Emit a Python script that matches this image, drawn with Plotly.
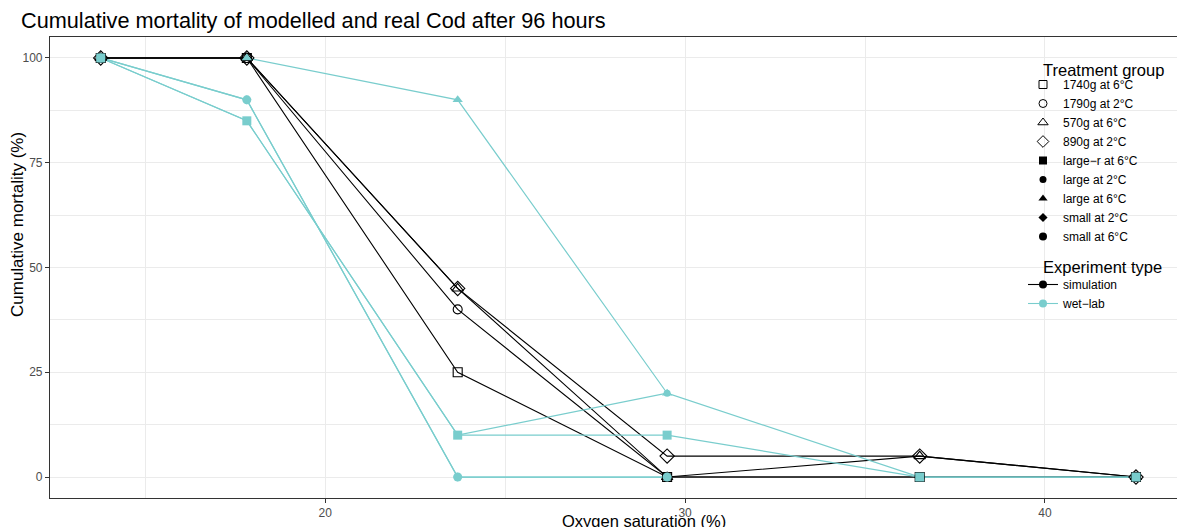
import plotly.graph_objects as go

# ---- data ----
oxygen = [13.76, 17.82, 23.68, 29.5, 36.52, 42.53]

sim_groups = ["1740g at 6°C", "1790g at 2°C", "570g at 6°C", "890g at 2°C"]
sim_1740g_6C = [100, 100, 25, 0, 0, 0]
sim_1790g_2C = [100, 100, 40, 0, 0, 0]
sim_570g_6C = [100, 100, 45, 0, 5, 0]
sim_890g_2C = [100, 100, 45, 5, 5, 0]

wet_groups = ["large−r at 6°C", "large at 2°C", "large at 6°C", "small at 2°C", "small at 6°C"]
wet_larger_6C = [100, 85, 10, 10, 0, 0]
wet_large_2C = [100, 85, 10, 20, 0, 0]
wet_large_6C = [None, 100, 90, 20, None, None]
wet_small_2C = [100, 90, 0, 0, None, None]
wet_small_6C = [100, 90, 0, 0, None, None]

x_ticks = [20, 30, 40]
y_ticks = [0, 25, 50, 75, 100]

# ---- styles ----
BLACK = "#000000"
TEAL = "#79CDCD"
sim_series = [sim_1740g_6C, sim_1790g_2C, sim_570g_6C, sim_890g_2C]
sim_symbols = ["square-open", "circle-open", "triangle-up-open", "diamond-open"]
sim_sizes = [9, 9, 10, 11]
wet_series = [wet_larger_6C, wet_large_2C, wet_large_6C, wet_small_2C, wet_small_6C]
wet_symbols = ["square", "circle", "triangle-up", "diamond", "circle"]
wet_sizes = [9, 7, 9, 7, 9]

fig = go.Figure()

# lines first (lines layer under points layer)
for ys in sim_series:
    fig.add_trace(go.Scatter(x=oxygen, y=ys, mode="lines", line=dict(color=BLACK, width=1.1),
                             showlegend=False, hoverinfo="skip", connectgaps=False))
for ys in wet_series:
    fig.add_trace(go.Scatter(x=oxygen, y=ys, mode="lines", line=dict(color=TEAL, width=1.2),
                             showlegend=False, hoverinfo="skip", connectgaps=False))
# points
for ys, sym, sz in zip(sim_series, sim_symbols, sim_sizes):
    fig.add_trace(go.Scatter(x=oxygen, y=ys, mode="markers",
                             marker=dict(symbol=sym, size=sz, color=BLACK, line=dict(width=1.1, color=BLACK)),
                             showlegend=False))
for ys, sym, sz in zip(wet_series, wet_symbols, wet_sizes):
    fig.add_trace(go.Scatter(x=oxygen, y=ys, mode="markers",
                             marker=dict(symbol=sym, size=sz, color=TEAL, line=dict(width=0)),
                             showlegend=False))

# legend: Treatment group
legend_sizes = [8, 8, 9, 9, 8, 7, 8, 7, 8]
for name, sym, sz in zip(sim_groups, sim_symbols, legend_sizes[:4]):
    fig.add_trace(go.Scatter(x=[None], y=[None], mode="markers", name=name, legend="legend",
                             marker=dict(symbol=sym, size=sz, color=BLACK, line=dict(width=1, color=BLACK))))
for name, sym, sz in zip(wet_groups, wet_symbols, legend_sizes[4:]):
    fig.add_trace(go.Scatter(x=[None], y=[None], mode="markers", name=name, legend="legend",
                             marker=dict(symbol=sym, size=sz, color=BLACK, line=dict(width=0))))
# legend: Experiment type
fig.add_trace(go.Scatter(x=[None], y=[None], mode="lines+markers", name="simulation", legend="legend2",
                         line=dict(color=BLACK, width=1.1), marker=dict(symbol="circle", size=8, color=BLACK)))
fig.add_trace(go.Scatter(x=[None], y=[None], mode="lines+markers", name="wet−lab", legend="legend2",
                         line=dict(color=TEAL, width=1.1), marker=dict(symbol="circle", size=8, color=TEAL)))

FONT = "Liberation Sans, Arial, sans-serif"
GRID = "#EBEBEB"
BORDER = "#333333"
L, T, B = 50, 37, 498
PW, PH = 1177 - L, B - T


def px_x(p):
    return (p - L) / PW


def px_y(p):
    return 1 - (p - T) / PH


fig.update_layout(
    width=1177, height=527,
    margin=dict(l=L, r=0, t=T, b=527 - B, autoexpand=False),
    paper_bgcolor="white", plot_bgcolor="white",
    font=dict(family=FONT, color="#000000"),
    title=dict(text="Cumulative mortality of modelled and real Cod after 96 hours",
               x=21 / 1177, xanchor="left", xref="container",
               y=1 - 20 / 527, yanchor="middle", yref="container",
               font=dict(size=21.7, color="#000000", family=FONT)),
    xaxis=dict(range=[12.35, 43.67], tickvals=x_ticks, ticktext=[str(v) for v in x_ticks],
               showgrid=True, gridcolor=GRID, gridwidth=1.1, automargin=False,
               minor=dict(showgrid=True, gridcolor=GRID, gridwidth=0.6, dtick=5, tick0=0),
               showline=True, linecolor=BORDER, linewidth=1.1, mirror=True,
               ticks="outside", ticklen=4, tickcolor=BORDER, tickwidth=1,
               tickfont=dict(size=12, color="#4D4D4D", family=FONT), zeroline=False),
    yaxis=dict(range=[-5, 105], tickvals=y_ticks, ticktext=[str(v) for v in y_ticks],
               showgrid=True, gridcolor=GRID, gridwidth=1.1, automargin=False,
               minor=dict(showgrid=True, gridcolor=GRID, gridwidth=0.6, dtick=12.5, tick0=0),
               showline=True, linecolor=BORDER, linewidth=1.1, mirror=False,
               ticks="outside", ticklen=4, tickcolor=BORDER, tickwidth=1,
               tickfont=dict(size=12, color="#4D4D4D", family=FONT), zeroline=False),
    legend=dict(x=px_x(1023), xanchor="left", y=px_y(70), yanchor="top",
                bgcolor="rgba(0,0,0,0)", font=dict(size=12, family=FONT), itemwidth=30,
                tracegroupgap=0, itemclick=False),
    legend2=dict(x=px_x(1023), xanchor="left", y=px_y(270), yanchor="top",
                 bgcolor="rgba(0,0,0,0)", font=dict(size=12, family=FONT), itemwidth=30,
                 tracegroupgap=0, itemclick=False),
    annotations=[
        dict(text="Treatment group", xref="paper", yref="paper", x=px_x(1041), y=px_y(70),
             xanchor="left", yanchor="middle", showarrow=False,
             font=dict(size=16.5, family=FONT, color="#000000")),
        dict(text="Experiment type", xref="paper", yref="paper", x=px_x(1041), y=px_y(267),
             xanchor="left", yanchor="middle", showarrow=False,
             font=dict(size=16.5, family=FONT, color="#000000")),
        dict(text="Oxygen saturation (%)", xref="paper", yref="paper",
             x=px_x(644), y=px_y(521), xanchor="center", yanchor="middle",
             showarrow=False, font=dict(size=16.5, family=FONT, color="#000000")),
        dict(text="Cumulative mortality (%)", xref="paper", yref="paper",
             x=px_x(17), y=px_y(225), xanchor="center", yanchor="middle", textangle=-90,
             showarrow=False, font=dict(size=17, family=FONT, color="#000000")),
    ],
)

fig.write_html("out.html", config={"displayModeBar": False},
               post_script="document.body.style.margin='0';document.body.style.overflow='hidden';")
